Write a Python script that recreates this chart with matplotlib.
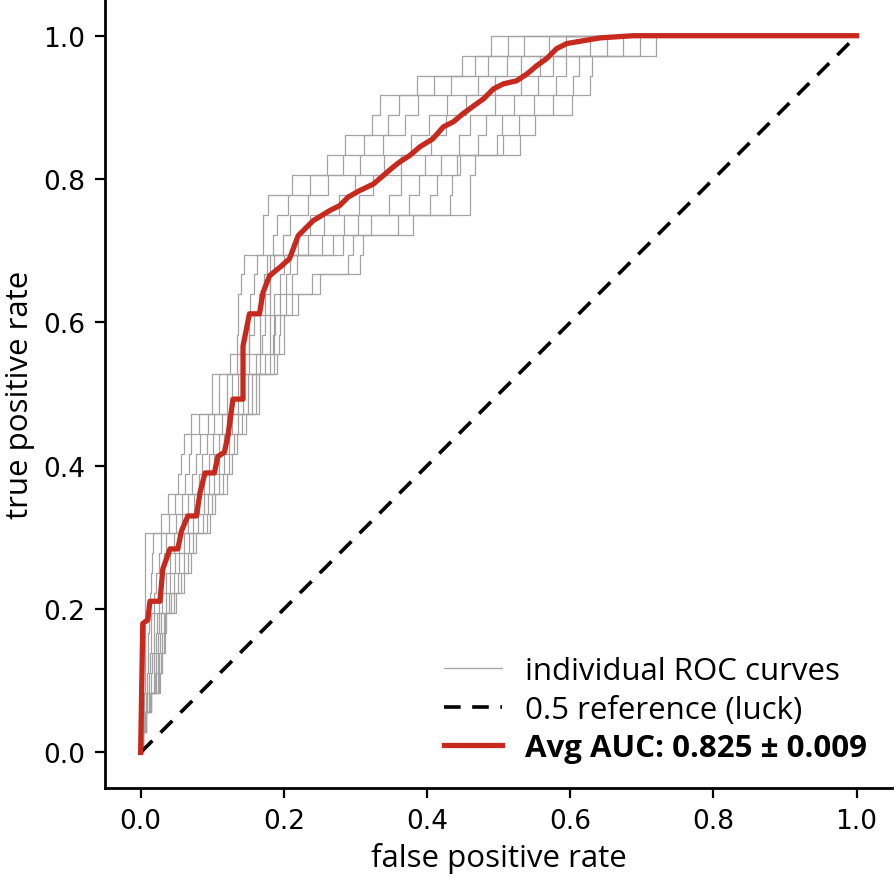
import matplotlib
matplotlib.use("Agg")
import matplotlib.pyplot as plt
from matplotlib import font_manager

# shared TPR levels of the individual (fold) ROC curves, plus end point
tpr_levels = [0.000, 0.028, 0.056, 0.083, 0.111, 0.139, 0.167, 0.194, 0.222, 0.250,
              0.278, 0.306, 0.333, 0.361, 0.389, 0.417, 0.444, 0.472, 0.500, 0.528,
              0.556, 0.583, 0.611, 0.639, 0.667, 0.694, 0.722, 0.750, 0.778, 0.806,
              0.833, 0.861, 0.889, 0.917, 0.944, 0.972, 1.000, 1.000]

curve_a = [0, 0, .002, .005, .006, .006, .006, .006, .006, .006, .006, .006, .029, .038, .052,
           .056, .060, .071, .100, .100, .125, .151, .158, .165, .172, .177, .220, .237, .277,
           .300, .340, .378, .403, .428, .471, .512, .571, 1.0]
curve_b = [0, .001, .003, .007, .009, .010, .010, .011, .013, .014, .016, .017, .039, .048, .062,
           .067, .071, .082, .110, .110, .135, .135, .136, .136, .140, .145, .171, .171, .178,
           .211, .260, .285, .323, .334, .386, .449, .490, 1.0]
curve_c = [0, .001, .004, .008, .012, .013, .014, .015, .019, .022, .025, .028, .049, .058, .072,
           .078, .083, .094, .120, .120, .145, .170, .174, .186, .194, .200, .254, .284, .347,
           .363, .397, .445, .460, .495, .531, .558, .628, 1.0]
curve_d = [0, .002, .005, .009, .015, .016, .018, .019, .025, .029, .033, .036, .058, .066, .081,
           .086, .092, .103, .128, .128, .152, .152, .152, .153, .158, .163, .199, .209, .234,
           .262, .306, .338, .369, .388, .434, .485, .536, 1.0]
curve_e = [0, .002, .005, .011, .018, .019, .021, .023, .030, .036, .041, .046, .066, .074, .089,
           .096, .101, .113, .136, .136, .161, .185, .187, .203, .212, .218, .282, .322, .404,
           .414, .442, .498, .505, .549, .580, .594, .674, 1.0]
curve_f = [0, .003, .006, .012, .020, .022, .024, .026, .035, .041, .048, .053, .073, .081, .096,
           .103, .109, .120, .143, .143, .167, .167, .167, .174, .181, .186, .234, .256, .305,
           .325, .363, .405, .426, .455, .495, .531, .594, 1.0]
curve_g = [0, .003, .007, .013, .022, .024, .027, .029, .039, .047, .054, .060, .080, .088, .103,
           .110, .116, .128, .150, .150, .174, .200, .200, .220, .250, .306, .310, .380, .460,
           .460, .467, .530, .551, .603, .628, .630, .720, 1.0]
curve_h = [0, .003, .007, .014, .024, .026, .030, .032, .043, .052, .060, .067, .087, .094, .110,
           .117, .124, .136, .156, .156, .180, .180, .180, .180, .180, .180, .185, .190, .206,
           .236, .283, .312, .346, .361, .410, .467, .513, 1.0]
curve_i = [0, .004, .008, .014, .026, .028, .032, .034, .047, .056, .066, .073, .092, .099, .115,
           .123, .130, .142, .161, .161, .186, .186, .186, .195, .203, .209, .268, .303, .375,
           .389, .420, .471, .483, .522, .555, .576, .651, 1.0]
curve_j = [0, .004, .008, .015, .027, .030, .034, .036, .050, .060, .070, .078, .097, .104, .120,
           .128, .135, .147, .166, .166, .190, .193, .194, .212, .239, .290, .296, .359, .432,
           .435, .446, .506, .528, .576, .604, .612, .697, 1.0]
individual_fpr = [curve_a, curve_b, curve_c, curve_d, curve_e,
                  curve_f, curve_g, curve_h, curve_i, curve_j]

# mean ROC curve
avg_fpr = [0, 0.003, 0.010, 0.013, 0.027, 0.031, 0.041, 0.052, 0.057, 0.066, 0.078, 0.083,
           0.090, 0.103, 0.108, 0.117, 0.122, 0.129, 0.143, 0.143, 0.152, 0.166, 0.171, 0.180,
           0.197, 0.208, 0.220, 0.241, 0.264, 0.278, 0.290, 0.306, 0.325, 0.339, 0.353, 0.362,
           0.376, 0.390, 0.408, 0.423, 0.437, 0.450, 0.465, 0.479, 0.493, 0.507, 0.525, 0.540,
           0.553, 0.567, 0.581, 0.595, 0.618, 0.642, 0.688, 1.0]
avg_tpr = [0, 0.180, 0.185, 0.211, 0.211, 0.256, 0.284, 0.284, 0.309, 0.330, 0.330, 0.363,
           0.390, 0.390, 0.413, 0.419, 0.442, 0.493, 0.493, 0.567, 0.612, 0.612, 0.642, 0.665,
           0.679, 0.689, 0.721, 0.742, 0.756, 0.763, 0.775, 0.784, 0.793, 0.805, 0.817, 0.824,
           0.833, 0.845, 0.856, 0.873, 0.880, 0.891, 0.902, 0.912, 0.926, 0.933, 0.937, 0.947,
           0.958, 0.968, 0.982, 0.989, 0.993, 0.997, 1.0, 1.0]

luck_x = [0.0, 1.0]
luck_y = [0.0, 1.0]

ticks = [0.0, 0.2, 0.4, 0.6, 0.8, 1.0]
tick_labels = ["0.0", "0.2", "0.4", "0.6", "0.8", "1.0"]

label_font = ["Open Sans", "DejaVu Sans"]


def find_bold_font():
    prefs = ["Open Sans", "Noto Sans", "Lato", "Roboto", "Inter", "Liberation Sans"]
    for fam in prefs:
        for f in font_manager.fontManager.ttflist:
            w = f.weight if isinstance(f.weight, int) else 700 if f.weight == "bold" else 400
            if (f.name == fam and w >= 600 and w <= 750 and f.style == "normal"
                    and f.stretch in ("normal", 500)):
                return font_manager.FontProperties(fname=f.fname, size=22.5)
    return font_manager.FontProperties(family="DejaVu Sans", weight="bold", size=21)


fig = plt.figure(figsize=(8.96, 8.78), dpi=100)
ax = fig.add_axes([0.117, 0.101, 0.879, 0.898])

for i, fpr in enumerate(individual_fpr):
    ax.step(fpr, tpr_levels, where="post", color="#a3a3a3", lw=0.9,
            label="individual ROC curves" if i == 0 else None, zorder=2)

ax.plot(luck_x, luck_y, color="black", lw=2.6, dashes=(4.6, 3.2),
        label="0.5 reference (luck)", zorder=3)
ax.plot(avg_fpr, avg_tpr, color="#c8291d", lw=3.8,
        label="Avg AUC: 0.825 \u00b1 0.009", zorder=4)

ax.set_xlim(-0.05, 1.05)
ax.set_ylim(-0.05, 1.05)
ax.set_xticks(ticks)
ax.set_xticklabels(tick_labels)
ax.set_yticks(ticks)
ax.set_yticklabels(tick_labels)
ax.tick_params(labelsize=19, length=7, width=1.6, direction="out", pad=7)

for side in ("top", "right"):
    ax.spines[side].set_visible(False)
for side in ("left", "bottom"):
    ax.spines[side].set_linewidth(2.0)

ax.set_xlabel("false positive rate", fontsize=22.5, family=label_font, labelpad=6)
ax.set_ylabel("true positive rate", fontsize=22.5, family=label_font, labelpad=6)

leg = ax.legend(loc="lower right", frameon=False,
                prop={"family": label_font, "size": 22.5},
                handlelength=1.85, handletextpad=0.75, labelspacing=0.28,
                borderaxespad=0.4)
texts = leg.get_texts()
texts[2].set_fontproperties(find_bold_font())

fig.savefig("out.png", dpi=100)
